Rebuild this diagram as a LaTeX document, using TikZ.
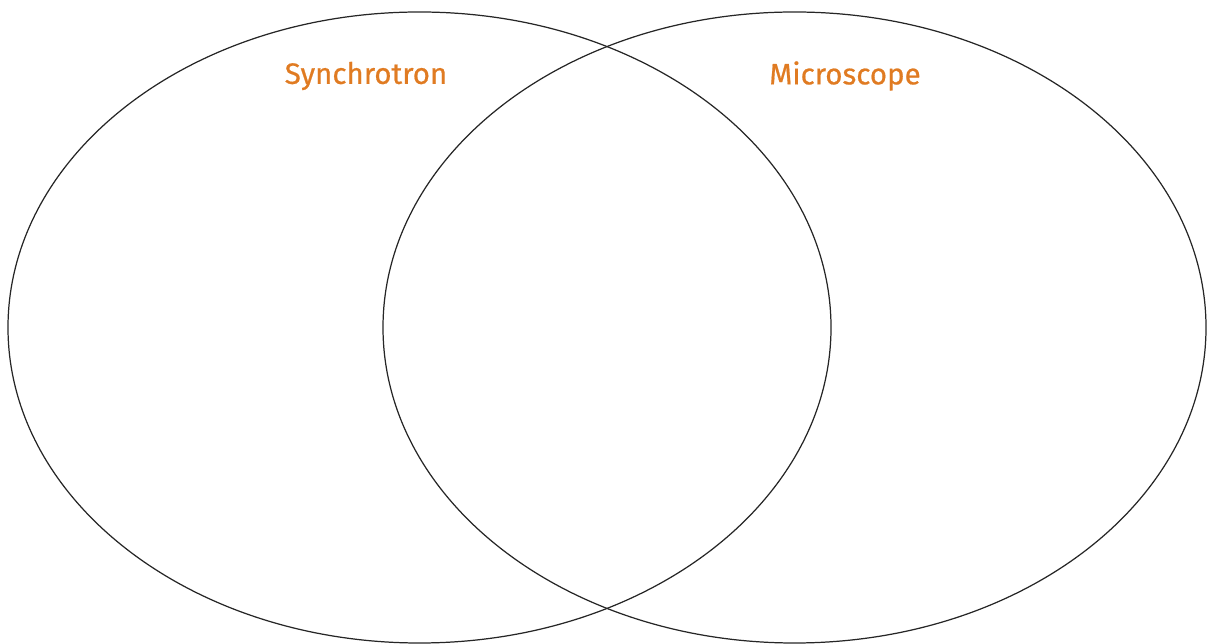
\documentclass[tikz,border=0pt]{standalone}
\usepackage{fontspec}
\setsansfont{Fira Sans}
\newfontfamily\labelfont{Fira Sans}[FakeBold=0.6]
\definecolor{labelorange}{HTML}{E07B22}
\tikzset{
    setring/.style={draw=black!85, line width=0.35pt},
    setlabel/.style={text=labelorange, font=\labelfont\fontsize{8.4}{10}\selectfont}
}
\begin{document}
\begin{tikzpicture}
    \useasboundingbox (0,0) rectangle (12.07,6.44);

    % the two sets
    \draw[setring] (4.195,3.165) ellipse [x radius=4.115, y radius=3.155];
    \draw[setring] (7.945,3.165) ellipse [x radius=4.115, y radius=3.155];

    % set names
    \node[setlabel] (synchro) at (3.66,5.68) {Synchrotron};
    \node[setlabel] (micro) at (8.45,5.68) {Microscope};
\end{tikzpicture}
\end{document}
